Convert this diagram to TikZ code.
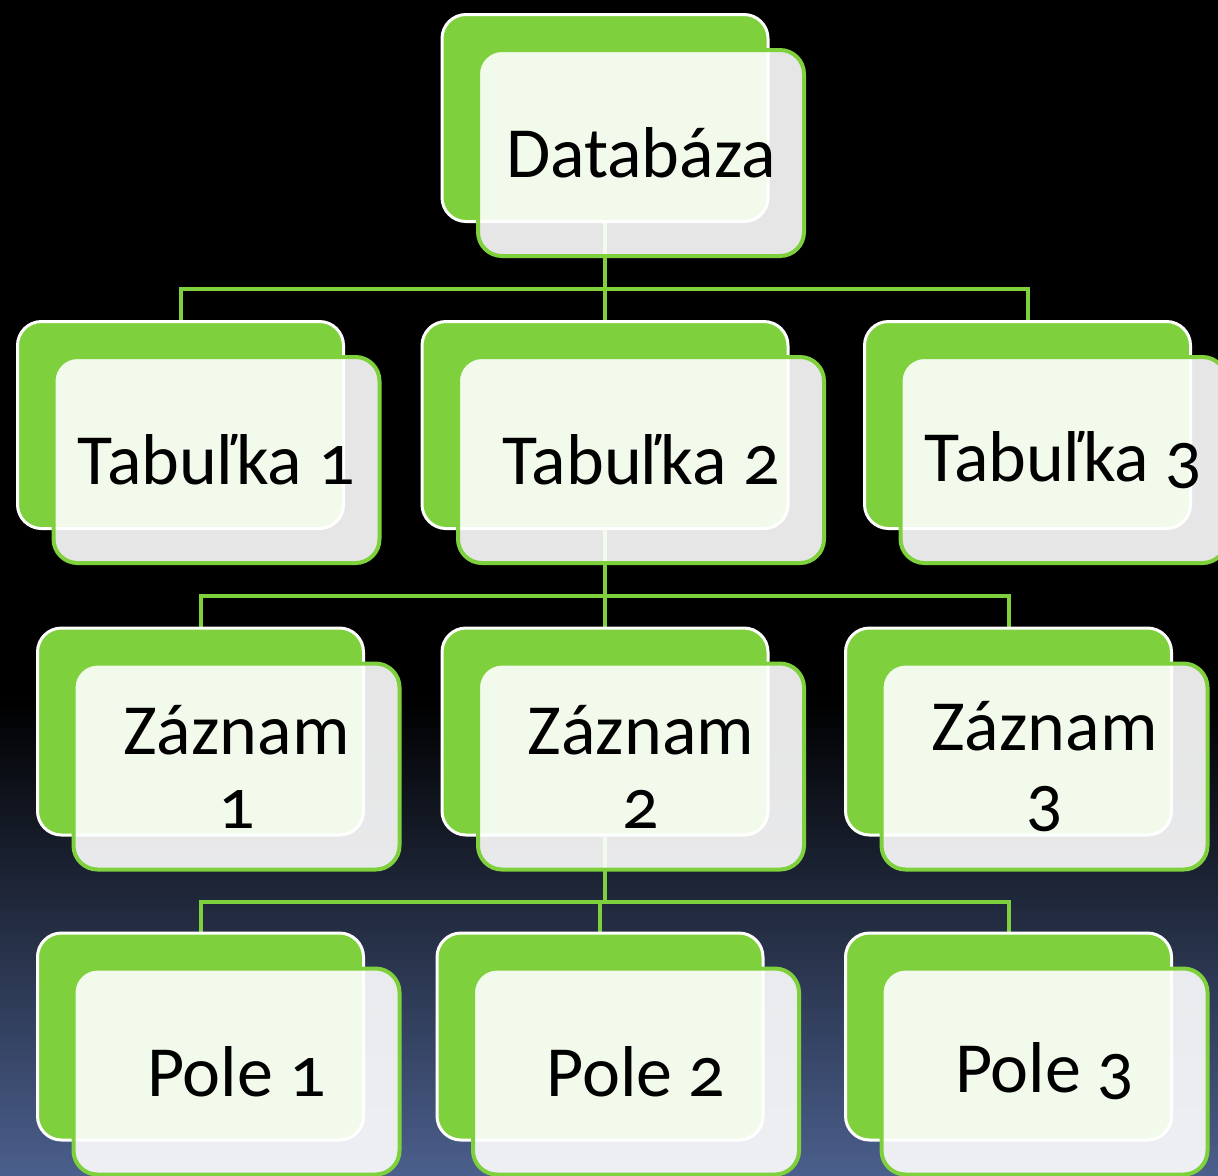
\documentclass[tikz,border=0pt]{standalone}
\usepackage{fontspec}
\setmainfont[Numbers=OldStyle]{Carlito}
\usepackage{xcolor}
\usepackage{tikz}
\usetikzlibrary{positioning,shapes}

\definecolor{leaf}{HTML}{7ED13C}
\definecolor{dusk}{HTML}{4B5F8C}
\pgfdeclarelayer{bg}
\pgfsetlayers{bg,main}

\begin{document}
\begin{tikzpicture}[
  x=0.5pt, y=-0.5pt,
  backbox/.style={rectangle, draw=white, line width=1.5pt, rounded corners=12pt, fill=leaf, minimum width=163pt, minimum height=103.5pt},
  frontbox/.style={rectangle, draw=leaf, line width=2pt, rounded corners=12pt, fill=white, fill opacity=0.9, text opacity=1, align=center, minimum width=163pt, minimum height=103pt, font=\fontsize{36}{37}\selectfont},
  wide/.style={minimum width=183pt},
  link/.style={draw=leaf, line width=2pt}
]
  \useasboundingbox (0,0) rectangle (1218,1175);

  % back boxes
  \node[backbox] (db) at (605,118) {};
  \node[backbox] (t1) at (180.5,425) {};
  \node[backbox, wide] (t2) at (605,425) {};
  \node[backbox] (t3) at (1027.5,425) {};
  \node[backbox] (z1) at (200.5,731.5) {};
  \node[backbox] (z2) at (605,731.5) {};
  \node[backbox] (z3) at (1008.5,731.5) {};
  \node[backbox] (p1) at (200.5,1036.5) {};
  \node[backbox] (p2) at (600,1036.5) {};
  \node[backbox] (p3) at (1008.5,1036.5) {};

  % front boxes
  \node[frontbox] (dbf) at ([shift={(36,35)}]db.center) {Databáza};
  \node[frontbox] (t1f) at ([shift={(36,35)}]t1.center) {Tabuľka 1};
  \node[frontbox, wide] (t2f) at ([shift={(36,35)}]t2.center) {Tabuľka 2};
  \node[frontbox] (t3f) at ([shift={(36,35)}]t3.center) {Tabuľka 3};
  \node[frontbox] (z1f) at ([shift={(36,35)}]z1.center) {Záznam\\1};
  \node[frontbox] (z2f) at ([shift={(36,35)}]z2.center) {Záznam\\2};
  \node[frontbox] (z3f) at ([shift={(36,35)}]z3.center) {Záznam\\3};
  \node[frontbox] (p1f) at ([shift={(36,35)}]p1.center) {Pole 1};
  \node[frontbox] (p2f) at ([shift={(36,35)}]p2.center) {Pole 2};
  \node[frontbox] (p3f) at ([shift={(36,35)}]p3.center) {Pole 3};

  \begin{pgfonlayer}{bg}
    \fill[black] (0,0) rectangle (1218,1175);
    \shade[top color=black, bottom color=dusk] (0,700) rectangle (1218,1175);

    \coordinate (bus1) at (605,289);
    \coordinate (bus2) at (605,596);
    \coordinate (bus3) at (605,902);
    \draw[link] (db) -- (t2);
    \draw[link] (t1) |- (bus1) -| (t3);
    \draw[link] (t2) -- (z2);
    \draw[link] (z1) |- (bus2) -| (z3);
    \draw[link] (z2) -- (bus3);
    \draw[link] (p1) |- (bus3) -| (p3);
    \draw[link] (p2) |- (bus3);
  \end{pgfonlayer}
\end{tikzpicture}
\end{document}
